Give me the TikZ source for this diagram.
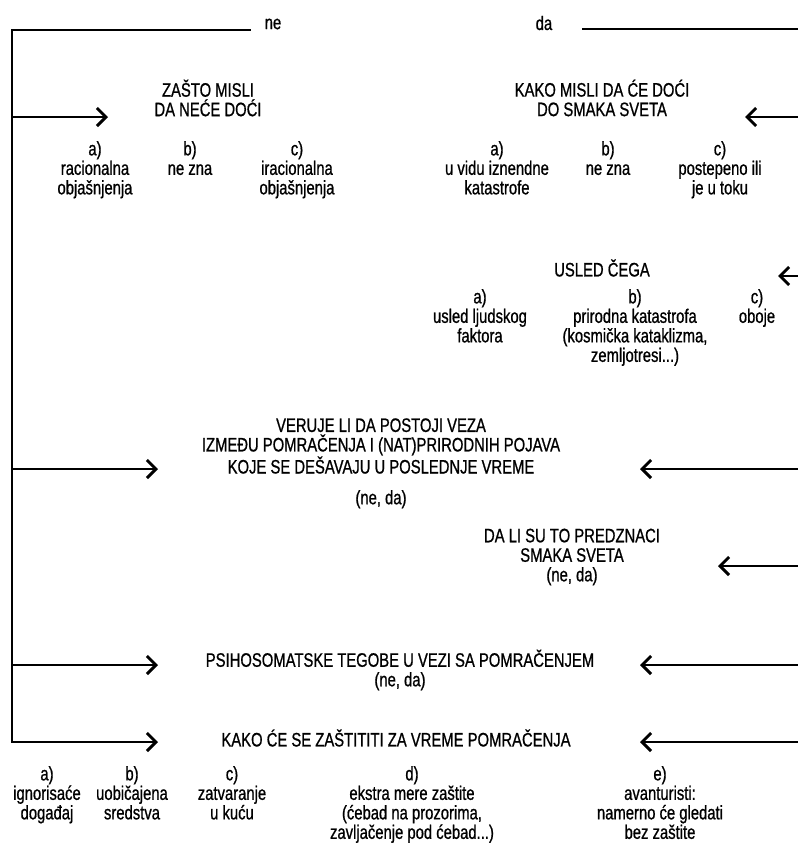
\documentclass[tikz,border=0pt]{standalone}
\usepackage{fontspec}
\setmainfont{Liberation Sans}[FakeStretch=0.76, FakeBold=0.8]
\usetikzlibrary{arrows.meta, positioning, calc}
\newcommand\diagfont{\fontsize{19.5}{19.5}\selectfont}

\begin{document}
\begin{tikzpicture}[ x = 1pt, y = -1pt
                   , font = \diagfont
                   , >={Straight Barb[length=9pt, width=18pt]}
                   , every node/.style = { align = center, inner sep = 0pt }
                   , choice/.style = { anchor = north }
                   , wire/.style = { line width = 2.9pt, line join = miter }
                   ]
  \useasboundingbox (0,0) rectangle (798,860);

  % answers at the top
  \node (ne) at (273,24) {ne};
  \node (da) at (544,23) {da};

  % left branch
  \node (zasto) at (208,98) {ZAŠTO MISLI\\DA NEĆE DOĆI};
  \node (zasto-a) [choice] at (95,141) {a)\\racionalna\\objašnjenja};
  \node (zasto-b) [choice] at (190,141) {b)\\ne zna};
  \node (zasto-c) [choice] at (297,141) {c)\\iracionalna\\objašnjenja};

  % right branch
  \node (kako) at (602,98) {KAKO MISLI DA ĆE DOĆI\\DO SMAKA SVETA};
  \node (kako-a) [choice] at (497,141) {a)\\u vidu iznendne\\katastrofe};
  \node (kako-b) [choice] at (608,141) {b)\\ne zna};
  \node (kako-c) [choice] at (720,141) {c)\\postepeno ili\\je u toku};

  \node (usled) at (602,268) {USLED ČEGA};
  \node (usled-a) [choice] at (480,289) {a)\\usled ljudskog\\faktora};
  \node (usled-b) [choice] at (635,289) {b)\\prirodna katastrofa\\(kosmička kataklizma,\\zemljotresi...)};
  \node (usled-c) [choice] at (757,289) {c)\\oboje};

  % common questions
  \node (veza) at (381,446) {VERUJE LI DA POSTOJI VEZA\\IZMEĐU POMRAČENJA I (NAT)PRIRODNIH POJAVA\\KOJE SE DEŠAVAJU U POSLEDNJE VREME};
  \node (veza-odg) [below = 16pt of veza] {(ne, da)};
  \node (znaci) at (572,557) {DA LI SU TO PREDZNACI\\SMAKA SVETA\\(ne, da)};
  \node (tegobe) at (400,670) {PSIHOSOMATSKE TEGOBE U VEZI SA POMRAČENJEM\\(ne, da)};
  \node (zastita) at (396,738) {KAKO ĆE SE ZAŠTITITI ZA VREME POMRAČENJA};

  \node (zastita-a) [choice] at (47,766) {a)\\ignorisaće\\događaj};
  \node (zastita-b) [choice] at (132,766) {b)\\uobičajena\\sredstva};
  \node (zastita-c) [choice] at (232,766) {c)\\zatvaranje\\u kuću};
  \node (zastita-d) [choice] at (412,766) {d)\\ekstra mere zaštite\\(ćebad na prozorima,\\zavljačenje pod ćebad...)};
  \node (zastita-e) [choice] at (660,766) {e)\\avanturisti:\\namerno će gledati\\bez zaštite};

  % arrow ends
  \coordinate (top-left) at (12,30);
  \coordinate (top-right) at (798,29);
  \coordinate (zasto-in) at (108,117);
  \coordinate (veza-lin) at (158,469);
  \coordinate (tegobe-lin) at (158,665);
  \coordinate (zastita-lin) at (158,742);
  \coordinate (kako-in) at (745,117);
  \coordinate (usled-in) at (778,276);
  \coordinate (veza-rin) at (640,469);
  \coordinate (znaci-in) at (718,566);
  \coordinate (tegobe-rin) at (640,665);
  \coordinate (zastita-rin) at (640,742);

  % "ne" side
  \draw[wire, ->] ([xshift=-14pt]ne.west |- top-left) -- (top-left) -- (top-left |- zastita-lin) -- (zastita-lin);
  \draw[wire, ->] (top-left |- zasto-in) -- (zasto-in);
  \draw[wire, ->] (top-left |- veza-lin) -- (veza-lin);
  \draw[wire, ->] (top-left |- tegobe-lin) -- (tegobe-lin);

  % "da" side
  \draw[wire] ([xshift=30pt]da.east |- top-right) -- (top-right);
  \draw[wire, ->] (top-right |- kako-in) -- (kako-in);
  \draw[wire, ->] (top-right |- usled-in) -- (usled-in);
  \draw[wire, ->] (top-right |- veza-rin) -- (veza-rin);
  \draw[wire, ->] (top-right |- znaci-in) -- (znaci-in);
  \draw[wire, ->] (top-right |- tegobe-rin) -- (tegobe-rin);
  \draw[wire, ->] (top-right |- zastita-rin) -- (zastita-rin);

\end{tikzpicture}
\end{document}
